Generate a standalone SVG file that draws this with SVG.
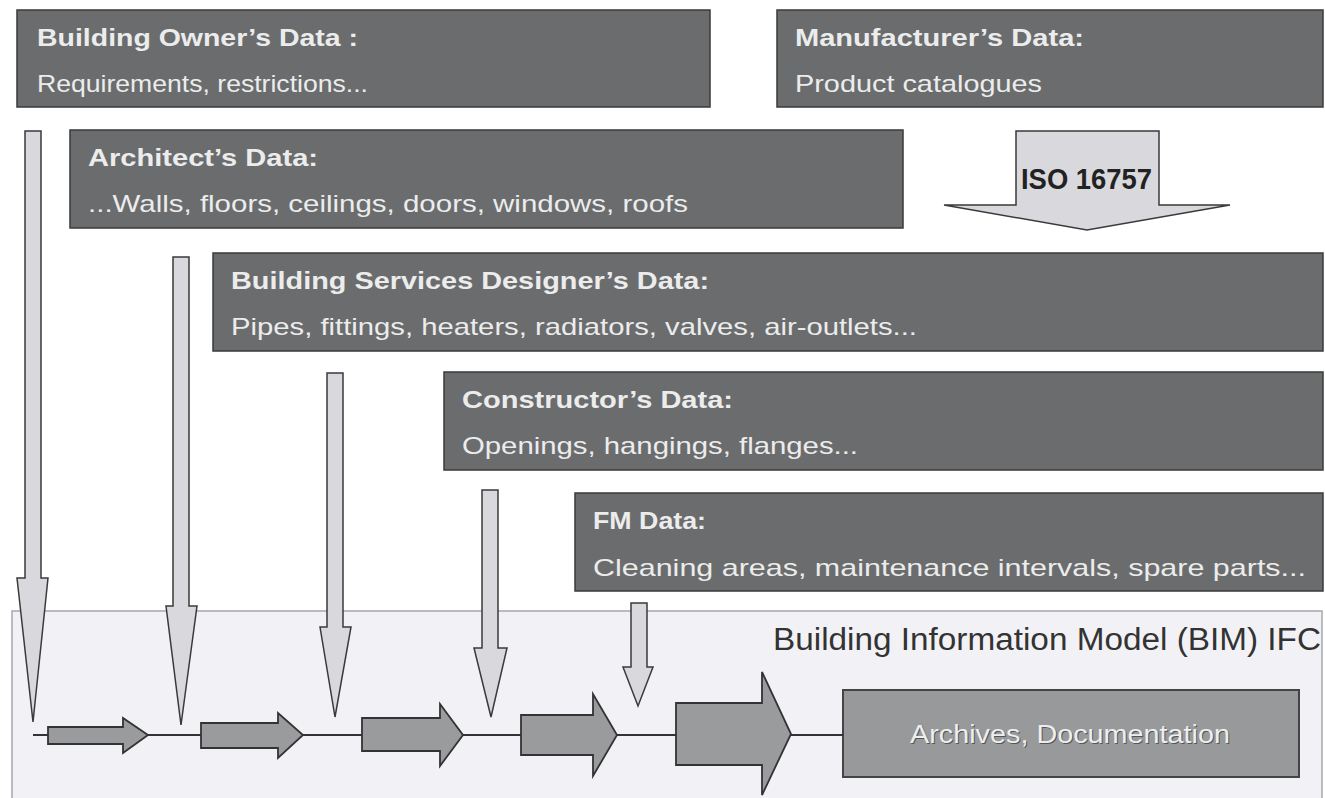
<svg xmlns="http://www.w3.org/2000/svg" width="1325" height="798" viewBox="0 0 1325 798">
<style>
.box{fill:#6b6c6e;stroke:#3a3a3a;stroke-width:1.5}
.t{font-family:"Liberation Sans",Arial,sans-serif;font-size:24px;fill:#ececec}
.b{font-weight:bold}
.down{fill:#d9d9dd;stroke:#3a3a3a;stroke-width:1.5;stroke-linejoin:miter}
.right{fill:#9a9b9d;stroke:#333;stroke-width:1.8}
.line{stroke:#333;stroke-width:2;fill:none}
</style>
<rect width="1325" height="798" fill="#ffffff"/>
<g id="bim">
<rect x="12" y="611" width="1310" height="190" fill="#f2f2f6" stroke="#a8a8ac" stroke-width="1.5"/>
<text x="773" y="650" font-family="Liberation Sans,Arial,sans-serif" font-size="31" fill="#333" textLength="548" lengthAdjust="spacingAndGlyphs">Building Information Model (BIM) IFC</text>
</g>
<g id="owner">
<rect class="box" x="17" y="10" width="693" height="97"/>
<text class="t b" x="37" y="46" textLength="321" lengthAdjust="spacingAndGlyphs">Building Owner’s Data :</text>
<text class="t" x="37" y="92" textLength="331" lengthAdjust="spacingAndGlyphs">Requirements, restrictions...</text>
</g>
<g id="manufacturer">
<rect class="box" x="777" y="10" width="546" height="97"/>
<text class="t b" x="795" y="46" textLength="289" lengthAdjust="spacingAndGlyphs">Manufacturer’s Data:</text>
<text class="t" x="795" y="92" textLength="247" lengthAdjust="spacingAndGlyphs">Product catalogues</text>
</g>
<g id="architect">
<rect class="box" x="70" y="130" width="833" height="98"/>
<text class="t b" x="88" y="166" textLength="230" lengthAdjust="spacingAndGlyphs">Architect’s Data:</text>
<text class="t" x="88" y="212" textLength="600" lengthAdjust="spacingAndGlyphs">...Walls, floors, ceilings, doors, windows, roofs</text>
</g>
<g id="iso">
<polygon points="1016,131 1159,131 1159,205 1230,205 1087,230 944,205 1016,205" fill="#d9d9dd" stroke="#3a3a3a" stroke-width="1.5"/>
<text x="1021" y="189" font-family="Liberation Sans,Arial,sans-serif" font-weight="bold" font-size="29" fill="#222" textLength="131" lengthAdjust="spacingAndGlyphs">ISO 16757</text>
</g>
<g id="services">
<rect class="box" x="213" y="253" width="1110" height="98"/>
<text class="t b" x="231" y="289" textLength="478" lengthAdjust="spacingAndGlyphs">Building Services Designer’s Data:</text>
<text class="t" x="231" y="335" textLength="686" lengthAdjust="spacingAndGlyphs">Pipes, fittings, heaters, radiators, valves, air-outlets...</text>
</g>
<g id="constructor">
<rect class="box" x="444" y="372" width="879" height="98"/>
<text class="t b" x="462" y="408" textLength="271" lengthAdjust="spacingAndGlyphs">Constructor’s Data:</text>
<text class="t" x="462" y="454" textLength="396" lengthAdjust="spacingAndGlyphs">Openings, hangings, flanges...</text>
</g>
<g id="fm">
<rect class="box" x="575" y="493" width="748" height="98"/>
<text class="t b" x="593" y="529" textLength="113" lengthAdjust="spacingAndGlyphs">FM Data:</text>
<text class="t" x="593" y="576" textLength="713" lengthAdjust="spacingAndGlyphs">Cleaning areas, maintenance intervals, spare parts...</text>
</g>
<g id="archives">
<rect x="843" y="690" width="456" height="87" fill="#98999b" stroke="#444" stroke-width="2"/>
<text x="1071" y="744" text-anchor="middle" font-family="Liberation Sans,Arial,sans-serif" font-size="25" fill="#555" textLength="320" lengthAdjust="spacingAndGlyphs">Archives, Documentation</text>
<text x="1070" y="743" text-anchor="middle" font-family="Liberation Sans,Arial,sans-serif" font-size="25" fill="#eeeeee" textLength="320" lengthAdjust="spacingAndGlyphs">Archives, Documentation</text>
</g>
<g id="connectors">
<line class="line" x1="33" y1="735" x2="843" y2="735"/>
<polygon class="down" points="25,131 41,131 41,578 48,578 33,722 17,578 25,578"/>
<polygon class="down" points="173,257 189,257 189,606 197,606 181,725 166,606 173,606"/>
<polygon class="down" points="327,373 343,373 343,627 351,627 335,717 320,627 327,627"/>
<polygon class="down" points="482,490 498,490 498,648 507,648 491,717 474,648 482,648"/>
<polygon class="down" points="631,603 647,603 647,667 653,667 638,706 623,667 631,667"/>
<polygon class="right" points="48,727 123,727 123,718 148,735 123,753 123,744 48,744"/>
<polygon class="right" points="201,723 278,723 278,713 303,735 278,758 278,748 201,748"/>
<polygon class="right" points="362,718 440,718 440,704 463,735 440,766 440,751 362,751"/>
<polygon class="right" points="521,715 593,715 593,694 617,735 593,776 593,755 521,755"/>
<polygon class="right" points="676,703 762,703 762,672 791,734 762,795 762,765 676,765"/>
</g>
</svg>
